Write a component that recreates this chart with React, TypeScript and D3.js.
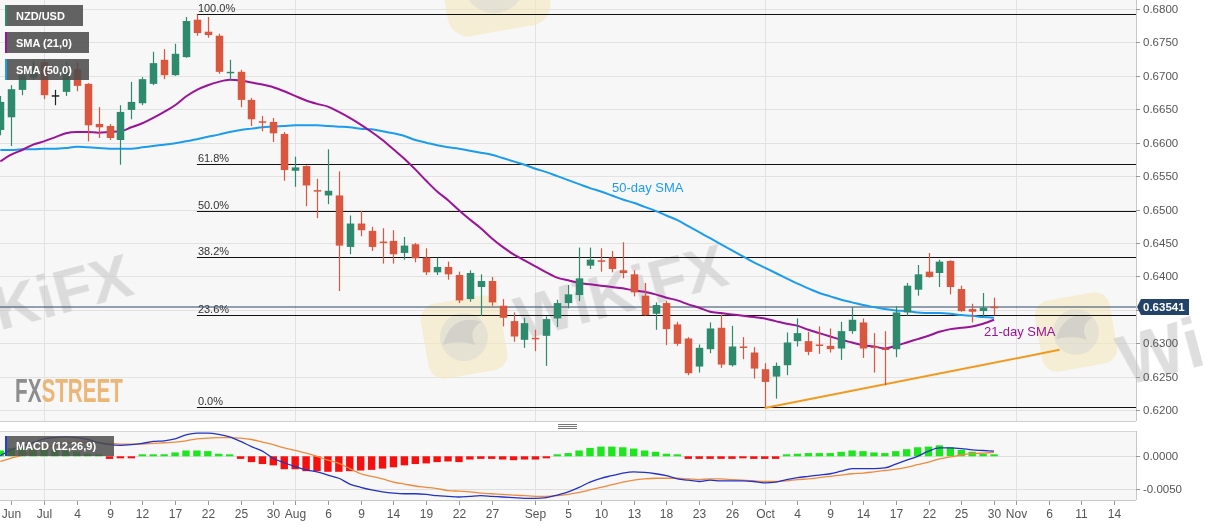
import React from "react";
import * as d3 from "d3";

// ---------- DATA ----------
const dates = [
  "2019-06-25","2019-06-26","2019-06-27","2019-06-28",
  "2019-07-01","2019-07-02","2019-07-03","2019-07-04","2019-07-05",
  "2019-07-08","2019-07-09","2019-07-10","2019-07-11","2019-07-12",
  "2019-07-15","2019-07-16","2019-07-17","2019-07-18","2019-07-19",
  "2019-07-22","2019-07-23","2019-07-24","2019-07-25","2019-07-26",
  "2019-07-29","2019-07-30","2019-07-31","2019-08-01","2019-08-02",
  "2019-08-05","2019-08-06","2019-08-07","2019-08-08","2019-08-09",
  "2019-08-12","2019-08-13","2019-08-14","2019-08-15","2019-08-16",
  "2019-08-19","2019-08-20","2019-08-21","2019-08-22","2019-08-23",
  "2019-08-26","2019-08-27","2019-08-28","2019-08-29","2019-08-30",
  "2019-09-02","2019-09-03","2019-09-04","2019-09-05","2019-09-06",
  "2019-09-09","2019-09-10","2019-09-11","2019-09-12","2019-09-13",
  "2019-09-16","2019-09-17","2019-09-18","2019-09-19","2019-09-20",
  "2019-09-23","2019-09-24","2019-09-25","2019-09-26","2019-09-27",
  "2019-09-30","2019-10-01","2019-10-02","2019-10-03","2019-10-04",
  "2019-10-07","2019-10-08","2019-10-09","2019-10-10","2019-10-11",
  "2019-10-14","2019-10-15","2019-10-16","2019-10-17","2019-10-18",
  "2019-10-21","2019-10-22","2019-10-23","2019-10-24","2019-10-25",
  "2019-10-28","2019-10-29","2019-10-30",
];

const opens = [
  0.6619,0.6638,0.6679,0.6697,0.6721,0.6671,0.6676,0.6710,0.6688,0.6628,
  0.6625,0.6604,0.6649,0.6659,0.6688,0.6724,0.6701,0.6728,0.6784,0.6766,
  0.6760,0.6705,0.6706,0.6664,0.6632,0.6631,0.6613,0.6558,0.6565,0.6529,
  0.6521,0.6521,0.6444,0.6479,0.6468,0.6452,0.6453,0.6435,0.6448,0.6428,
  0.6406,0.6414,0.6402,0.6366,0.6384,0.6393,0.6356,0.6333,0.6305,0.6308,
  0.6311,0.6337,0.6360,0.6372,0.6416,0.6424,0.6428,0.6409,0.6403,0.6371,
  0.6344,0.6360,0.6328,0.6307,0.6265,0.6291,0.6323,0.6267,0.6295,0.6286,
  0.6261,0.6250,0.6267,0.6303,0.6303,0.6298,0.6296,0.6292,0.6318,0.6331,
  0.6295,0.6292,0.6291,0.6346,0.6380,0.6407,0.6405,0.6423,0.6381,0.6351,
  0.6348,0.63545,
];
const highs = [
  0.6670,0.6686,0.6706,0.6721,0.6724,0.6679,0.6721,0.6721,0.6689,0.6653,
  0.6628,0.6656,0.6691,0.6698,0.6736,0.6740,0.6748,0.6788,0.6792,0.6788,
  0.6763,0.6724,0.6709,0.6667,0.6640,0.6637,0.6616,0.6579,0.6566,0.6546,
  0.6590,0.6557,0.6491,0.6498,0.6474,0.6472,0.6469,0.6459,0.6450,0.6442,
  0.6428,0.6422,0.6407,0.6409,0.6403,0.6399,0.6366,0.6346,0.6338,0.6320,
  0.6340,0.6365,0.6387,0.6443,0.6443,0.6442,0.6438,0.6451,0.6409,0.6390,
  0.6361,0.6363,0.6332,0.6309,0.6298,0.6331,0.6343,0.6326,0.6309,0.6294,
  0.6270,0.6271,0.6316,0.6337,0.6317,0.6325,0.6322,0.6332,0.6354,0.6337,
  0.6315,0.6318,0.6355,0.6390,0.6417,0.6435,0.6425,0.6424,0.6386,0.6359,
  0.6375,0.6368,
];
const lows = [
  0.6611,0.6595,0.6671,0.6694,0.6665,0.6656,0.6670,0.6677,0.6602,0.6607,
  0.6604,0.6567,0.6635,0.6656,0.6686,0.6695,0.6700,0.6727,0.6760,0.6757,
  0.6703,0.6694,0.6653,0.6625,0.6617,0.6601,0.6543,0.6534,0.6505,0.6487,
  0.6508,0.6378,0.6433,0.6460,0.6438,0.6419,0.6419,0.6425,0.6421,0.6402,
  0.6402,0.6395,0.6360,0.6362,0.6341,0.6356,0.6325,0.6302,0.6293,0.6288,
  0.6266,0.6324,0.6352,0.6363,0.6411,0.6407,0.6406,0.6397,0.6370,0.6341,
  0.6320,0.6297,0.6296,0.6252,0.6256,0.6285,0.6263,0.6265,0.6276,0.6247,
  0.6204,0.6217,0.6252,0.6295,0.6282,0.6284,0.6286,0.6275,0.6314,0.6278,
  0.6256,0.6237,0.6279,0.6341,0.6371,0.6398,0.6384,0.6373,0.6347,0.6331,
  0.6339,0.6342,
];
const closes = [
  0.6661,0.6680,0.6701,0.6712,0.6671,0.6671,0.6706,0.6685,0.6626,0.6623,
  0.6607,0.6646,0.6661,0.6695,0.6719,0.6701,0.6733,0.6782,0.6764,0.6761,
  0.6706,0.6706,0.6664,0.6635,0.6631,0.6614,0.6559,0.6563,0.6536,0.6527,
  0.6528,0.6446,0.6479,0.6469,0.6444,0.6451,0.6433,0.6446,0.6427,0.6406,
  0.6414,0.6403,0.6364,0.6405,0.6393,0.6361,0.6338,0.6310,0.6330,0.6307,
  0.6336,0.6360,0.6373,0.6397,0.6425,0.6423,0.6411,0.6405,0.6376,0.6342,
  0.6357,0.6321,0.6299,0.6255,0.6293,0.6322,0.6268,0.6295,0.6294,0.6262,
  0.6242,0.6266,0.6301,0.6315,0.6287,0.6297,0.6291,0.6318,0.6335,0.6292,
  0.6294,0.6290,0.6346,0.6386,0.6403,0.6399,0.6422,0.6384,0.6348,0.6347,
  0.6353,0.63541,
];

const sma21 = [
  0.6572,0.6582,0.6589,0.6597,0.6602,0.6608,0.6614,0.6616,0.6616,0.6615,
  0.6616,0.6617,0.6623,0.6629,0.6637,0.6646,0.6656,0.6669,0.6679,0.6686,
  0.6691,0.6694,0.6693,0.6690,0.6687,0.6683,0.6677,0.6670,0.6663,0.6658,
  0.6654,0.6646,0.6637,0.6627,0.6616,0.6604,0.6590,0.6576,0.6560,0.6543,
  0.6527,0.6514,0.6499,0.6485,0.6472,0.6457,0.6444,0.6433,0.6424,0.6415,
  0.6406,0.6398,0.6394,0.6390,0.6388,0.6386,0.6384,0.6382,0.6379,0.6377,
  0.6373,0.6368,0.6364,0.6358,0.6353,0.6347,0.6345,0.6343,0.6341,0.6339,
  0.6337,0.6333,0.6329,0.6326,0.6320,0.6315,0.6310,0.6305,0.6301,0.6297,
  0.6295,0.6292,0.6296,0.6301,0.6306,0.6311,0.6317,0.6321,0.6323,0.6325,
  0.6329,0.6335,
];
const sma50 = [
  0.6589,0.6589,0.6590,0.6590,0.6591,0.6591,0.6592,0.6594,0.6593,0.6592,
  0.6591,0.6591,0.6591,0.6593,0.6595,0.6597,0.6599,0.6602,0.6605,0.6609,
  0.6612,0.6616,0.6619,0.6621,0.6623,0.6624,0.6625,0.6626,0.6626,0.6626,
  0.6625,0.6624,0.6623,0.6621,0.6620,0.6617,0.6614,0.6610,0.6604,0.6600,
  0.6596,0.6593,0.6591,0.6588,0.6585,0.6582,0.6577,0.6572,0.6567,0.6561,
  0.6556,0.6550,0.6544,0.6538,0.6532,0.6527,0.6521,0.6515,0.6510,0.6504,
  0.6498,0.6491,0.6484,0.6475,0.6466,0.6457,0.6448,0.6439,0.6430,0.6421,
  0.6413,0.6405,0.6397,0.6389,0.6382,0.6375,0.6370,0.6365,0.6361,0.6357,
  0.6354,0.6351,0.6349,0.6348,0.6346,0.6345,0.6345,0.6344,0.6342,0.6341,
  0.6339,0.6338,
];

const macdLine = [
  0.0001,0.0010,0.0016,0.0021,0.0027,0.0029,0.0030,0.0029,0.0026,0.0021,
  0.0018,0.0017,0.0018,0.0020,0.0023,0.0024,0.0027,0.0033,0.0036,0.0036,
  0.0034,0.0030,0.0023,0.0015,0.0008,-0.0003,-0.0010,-0.0016,-0.0021,-0.0024,
  -0.0029,-0.0034,-0.0043,-0.0048,-0.0052,-0.0055,-0.0057,-0.0058,-0.0058,-0.0059,
  -0.0061,-0.0062,-0.0063,-0.0062,-0.0061,-0.0062,-0.0063,-0.0064,-0.0065,-0.0065,
  -0.0064,-0.0060,-0.0055,-0.0048,-0.0040,-0.0034,-0.0030,-0.0026,-0.0024,-0.0025,
  -0.0027,-0.0030,-0.0035,-0.0037,-0.0039,-0.0037,-0.0038,-0.0038,-0.0038,-0.0039,
  -0.0041,-0.0040,-0.0036,-0.0033,-0.0031,-0.0029,-0.0027,-0.0023,-0.0019,-0.0019,
  -0.0019,-0.0018,-0.0012,-0.0006,0.0000,0.0008,0.0013,0.0013,0.0012,0.0010,
  0.0009,0.0008,
];
const signalLine = [
  -0.0008,-0.0003,0.0002,0.0008,0.0013,0.0017,0.0020,0.0022,0.0022,0.0021,
  0.0020,0.0019,0.0019,0.0019,0.0020,0.0021,0.0022,0.0024,0.0027,0.0028,
  0.0029,0.0029,0.0028,0.0026,0.0022,0.0018,0.0013,0.0009,0.0005,0.0000,
  -0.0006,-0.0011,-0.0019,-0.0027,-0.0031,-0.0035,-0.0040,-0.0043,-0.0046,-0.0048,
  -0.0050,-0.0053,-0.0054,-0.0055,-0.0057,-0.0058,-0.0059,-0.0060,-0.0061,-0.0062,
  -0.0062,-0.0061,-0.0059,-0.0056,-0.0052,-0.0048,-0.0044,-0.0040,-0.0037,-0.0035,
  -0.0034,-0.0034,-0.0034,-0.0035,-0.0036,-0.0035,-0.0035,-0.0036,-0.0037,-0.0038,
  -0.0039,-0.0039,-0.0038,-0.0036,-0.0035,-0.0033,-0.0031,-0.0029,-0.0027,-0.0026,
  -0.0024,-0.0022,-0.0020,-0.0017,-0.0013,-0.0009,-0.0004,-0.0001,0.0002,0.0004,
  0.0005,0.0006,
];
const histogram = [
  0.0009,0.0013,0.0013,0.0012,0.0012,0.0010,0.0009,0.0007,0.0004,0.0001,
  -0.0004,-0.0003,-0.0002,0.00005,0.0003,0.0003,0.0006,0.0009,0.0009,0.0008,
  0.0004,0.0001,-0.0004,-0.0009,-0.0012,-0.0014,-0.0020,-0.0020,-0.0023,-0.0023,
  -0.0024,-0.0024,-0.0023,-0.0022,-0.0021,-0.0019,-0.0017,-0.0014,-0.0012,-0.0011,
  -0.0009,-0.0008,-0.0009,-0.0005,-0.0004,-0.0004,-0.0005,-0.0006,-0.0005,-0.0005,
  -0.0003,0.00015,0.0005,0.0009,0.0013,0.0015,0.0015,0.0014,0.0012,0.0009,
  0.0007,0.0004,0.0001,-0.0004,-0.0004,-0.0004,-0.0004,-0.0004,-0.0002,-0.0004,
  -0.0004,-0.0004,0.00005,0.0004,0.0005,0.0005,0.0005,0.0007,0.0009,0.0008,
  0.0006,0.0005,0.0008,0.0011,0.0014,0.0015,0.0017,0.0014,0.0010,0.0007,
  0.0004,0.00015,
];

const priceTicks = [0.62, 0.625, 0.63, 0.635, 0.64, 0.645, 0.65, 0.655, 0.66, 0.665, 0.67, 0.675, 0.68];
const macdTicks = [0, -0.005];
const tickDates = [
  "2019-06-26","2019-07-01","2019-07-04","2019-07-09","2019-07-12","2019-07-17","2019-07-22",
  "2019-07-25","2019-07-30","2019-08-01","2019-08-06","2019-08-09","2019-08-14","2019-08-19",
  "2019-08-22","2019-08-27","2019-09-02","2019-09-05","2019-09-10","2019-09-13","2019-09-18",
  "2019-09-23","2019-09-26","2019-10-01","2019-10-04","2019-10-09","2019-10-14","2019-10-17",
  "2019-10-22","2019-10-25","2019-10-30","2019-11-01","2019-11-06","2019-11-11","2019-11-14",
];
const tickLabels = [
  "Jun","Jul","4","9","12","17","22","25","30","Aug","6","9","14","19","22","27",
  "Sep","5","10","13","18","23","26","Oct","4","9","14","17","22","25","30","Nov","6","11","14",
];
const monthStarts = ["2019-07-01", "2019-08-01", "2019-09-02", "2019-10-01", "2019-11-01"];
const fibRatios = [1, 0.618, 0.5, 0.382, 0.236, 0];
const fibLabels = ["100.0%", "61.8%", "50.0%", "38.2%", "23.6%", "0.0%"];
const fibHigh = 0.6792;
const fibLow = 0.6204;
const fibStart = "2019-07-19";
const trendDates = ["2019-10-01", "2019-11-07"];
const trendValues = [0.6203, 0.629];
const lastPrice = 0.63541;

// ---------- HELPERS ----------
const BASE = Date.UTC(2019, 6, 1);
function tradingIndex(s: string): number {
  const [yy, mm, dd] = s.split("-").map(Number);
  const t = Date.UTC(yy, mm - 1, dd);
  let n = 0;
  let cur = BASE;
  const step = t >= BASE ? 1 : -1;
  while (cur !== t) {
    cur += step * 86400000;
    const wd = new Date(cur).getUTCDay();
    if (wd !== 0 && wd !== 6) n += step;
  }
  return n;
}

const W = 1207;
const H = 526;
const PLOT_R = 1136;
const MAIN_BOTTOM = 421;
const MACD_TOP = 431;
const MACD_BOTTOM = 500;
const FONT = "'Liberation Sans', Arial, Helvetica, sans-serif";

const UP = "#2e8a6c";
const DOWN = "#d9573e";
const PURPLE = "#9a1497";
const BLUE = "#1c9cef";

function Logo({ cx, cy, s }: { cx: number; cy: number; s: number }) {
  return (
    <g transform={`translate(${cx} ${cy}) rotate(-10) scale(${s})`}>
      <rect x={-40} y={-38} width={80} height={76} rx={16} fill="#f6e7b8" opacity={0.55} />
      <circle cx={0} cy={0} r={24} fill="#d2d2d2" opacity={0.45} />
      <path d="M-22,4 Q-8,-26 20,-12 Q4,-6 10,10 Q-4,2 -22,4 Z" fill="#bdbdbd" opacity={0.45} />
    </g>
  );
}

export default function App() {
  const x = d3.scaleLinear().domain([-4.03, 100]).range([0, PLOT_R]);
  const y = d3.scaleLinear().domain([0.62, 0.68]).range([410, 9]);
  const ym = d3.scaleLinear().domain([-0.005, 0]).range([488.6, 456.3]);

  const idx = dates.map(tradingIndex);

  const smaLine = (vals: number[]) =>
    d3
      .line<number>()
      .x((_, k) => x(idx[k]))
      .y((v) => y(v))
      .curve(d3.curveMonotoneX)(vals) || "";
  const macdPath = (vals: number[]) =>
    d3
      .line<number>()
      .x((_, k) => x(idx[k]))
      .y((v) => ym(v))
      .curve(d3.curveMonotoneX)(vals) || "";

  const fibX = x(tradingIndex(fibStart));
  const lastY = y(lastPrice);
  const bodyW = 7.5;

  return (
    <svg
      width={W}
      height={H}
      style={{ position: "absolute", left: 0, top: 0, background: "#ffffff" }}
      fontFamily={FONT}
    >
      {/* plot backgrounds */}
      <rect x={0} y={0} width={PLOT_R} height={MAIN_BOTTOM} fill="#f7f7f7" />
      <rect x={0} y={MACD_TOP} width={PLOT_R} height={MACD_BOTTOM - MACD_TOP} fill="#f7f7f7" />

      {/* horizontal grid */}
      {priceTicks.map((t) => (
        <line key={"g" + t} x1={0} x2={PLOT_R} y1={Math.round(y(t)) + 0.5} y2={Math.round(y(t)) + 0.5} stroke="#e2e2e2" />
      ))}
      {macdTicks.map((t) => (
        <line key={"gm" + t} x1={0} x2={PLOT_R} y1={Math.round(ym(t)) + 0.5} y2={Math.round(ym(t)) + 0.5} stroke="#dedede" />
      ))}
      {/* vertical month grid */}
      {monthStarts.map((d) => {
        const xx = Math.round(x(tradingIndex(d))) + 0.5;
        return (
          <g key={"v" + d}>
            <line x1={xx} x2={xx} y1={0} y2={MAIN_BOTTOM} stroke="#e2e2e2" />
            <line x1={xx} x2={xx} y1={MACD_TOP} y2={MACD_BOTTOM} stroke="#e2e2e2" />
          </g>
        );
      })}

      {/* watermarks (behind the series) */}
      <Logo cx={464} cy={337} s={1} />
      <Logo cx={494} cy={-18} s={1.3} />
      <Logo cx={1076} cy={332} s={0.95} />
      <g fill="#c9c9c9" opacity={0.6} fontWeight="bold" fontSize={62}>
        <text x={522} y={340} transform="rotate(-15 522 340)">WiKiFX</text>
        <text x={-73} y={350} transform="rotate(-15 -73 350)">WiKiFX</text>
        <text x={1126} y={386} fontSize={70} transform="rotate(-15 1126 386)">Wi</text>
      </g>

      {/* fibonacci levels */}
      {fibRatios.map((r, k) => {
        const v = fibLow + r * (fibHigh - fibLow);
        const yy = Math.round(y(v)) + 0.5;
        return (
          <g key={"f" + r}>
            <line x1={fibX} x2={PLOT_R} y1={yy} y2={yy} stroke="#111" strokeWidth={1} />
            <text x={fibX + 1} y={yy - 3} fontSize={11} fill="#333">
              {fibLabels[k]}
            </text>
          </g>
        );
      })}

      {/* last price line */}
      <line x1={0} x2={PLOT_R} y1={lastY} y2={lastY} stroke="#2c4664" strokeWidth={1} />

      {/* trend line */}
      <line
        x1={x(tradingIndex(trendDates[0]))}
        y1={y(trendValues[0])}
        x2={x(tradingIndex(trendDates[1]))}
        y2={y(trendValues[1])}
        stroke="#f39a1e"
        strokeWidth={2}
      />

      {/* SMA lines */}
      <path d={smaLine(sma50)} fill="none" stroke={BLUE} strokeWidth={2} />
      <path d={smaLine(sma21)} fill="none" stroke={PURPLE} strokeWidth={2} />

      {/* candles */}
      {dates.map((d, k) => {
        const cx = Math.round(x(idx[k])) + 0.5;
        const o = opens[k];
        const c = closes[k];
        const col = o === c ? "#222" : c > o ? UP : DOWN;
        const yTop = y(Math.max(o, c));
        const yBot = y(Math.min(o, c));
        return (
          <g key={d}>
            <line x1={cx} x2={cx} y1={y(highs[k])} y2={y(lows[k])} stroke={col} strokeWidth={1.2} />
            <rect x={cx - bodyW / 2} y={yTop} width={bodyW} height={Math.max(1.5, yBot - yTop)} fill={col} />
          </g>
        );
      })}

      {/* SMA annotations */}
      <text x={612} y={192} fontSize={13} fill={BLUE}>50-day SMA</text>
      <text x={984} y={336} fontSize={13} fill={PURPLE}>21-day SMA</text>

      {/* FXSTREET logo */}
      <text x={15} y={402} fontWeight="bold" fontSize={33} textLength={108} lengthAdjust="spacingAndGlyphs">
        <tspan fill="#8d8d8d">FX</tspan>
        <tspan fill="#ebb676">STREET</tspan>
      </text>

      {/* MACD histogram */}
      {histogram.map((v, k) => {
        const cx = x(idx[k]);
        const y0 = ym(0);
        const y1 = ym(v);
        const h = Math.max(2, Math.abs(y1 - y0));
        const top = v >= 0 ? y0 - h : y0;
        return (
          <rect key={"h" + k} x={cx - 3.7} y={top} width={7.4} height={h} fill={v >= 0 ? "#1ee61e" : "#f50f0f"} />
        );
      })}
      <path d={macdPath(signalLine)} fill="none" stroke="#f08a3c" strokeWidth={1.3} />
      <path d={macdPath(macdLine)} fill="none" stroke="#2231c8" strokeWidth={1.3} />

      {/* panel borders */}
      <line x1={0} x2={PLOT_R} y1={MAIN_BOTTOM + 0.5} y2={MAIN_BOTTOM + 0.5} stroke="#cfcfcf" />
      <line x1={0} x2={PLOT_R} y1={MACD_TOP + 0.5} y2={MACD_TOP + 0.5} stroke="#d6d6d6" />
      <line x1={0} x2={PLOT_R} y1={MACD_BOTTOM + 0.5} y2={MACD_BOTTOM + 0.5} stroke="#c8c8c8" />
      <line x1={PLOT_R + 0.5} x2={PLOT_R + 0.5} y1={0} y2={MAIN_BOTTOM} stroke="#c8c8c8" />
      <line x1={PLOT_R + 0.5} x2={PLOT_R + 0.5} y1={MACD_TOP} y2={MACD_BOTTOM} stroke="#c8c8c8" />
      {/* separator handle */}
      {[424.5, 426.5, 428.5].map((yy) => (
        <line key={"s" + yy} x1={558} x2={577} y1={yy} y2={yy} stroke="#777" />
      ))}

      {/* price axis */}
      {priceTicks.map((t) => (
        <g key={"t" + t}>
          <line x1={PLOT_R} x2={PLOT_R + 4} y1={Math.round(y(t)) + 0.5} y2={Math.round(y(t)) + 0.5} stroke="#999" />
          <text x={PLOT_R + 7} y={y(t)} dy="0.35em" fontSize={11.5} fill="#555">
            {t.toFixed(4)}
          </text>
        </g>
      ))}
      {macdTicks.map((t) => (
        <g key={"tm" + t}>
          <line x1={PLOT_R} x2={PLOT_R + 4} y1={Math.round(ym(t)) + 0.5} y2={Math.round(ym(t)) + 0.5} stroke="#999" />
          <text x={PLOT_R + 7} y={ym(t)} dy="0.35em" fontSize={11.5} fill="#555">
            {t === 0 ? "0.0000" : t.toFixed(4)}
          </text>
        </g>
      ))}

      {/* last price tag */}
      <path
        d={`M${PLOT_R + 1},${lastY} L${PLOT_R + 5},${lastY - 8} L${PLOT_R + 53},${lastY - 8} L${PLOT_R + 53},${lastY + 8} L${PLOT_R + 5},${lastY + 8} Z`}
        fill="#24436b"
      />
      <text x={PLOT_R + 7} y={lastY} dy="0.36em" fontSize={11.5} fontWeight="bold" fill="#fff">
        {lastPrice.toFixed(5)}
      </text>

      {/* x axis */}
      {tickDates.map((d, k) => {
        const xx = Math.round(x(tradingIndex(d))) + 0.5;
        return (
          <g key={"x" + d}>
            <line x1={xx} x2={xx} y1={MACD_BOTTOM + 1} y2={MACD_BOTTOM + 5} stroke="#999" />
            <text x={Math.max(xx, 10)} y={518} fontSize={12} fill="#555" textAnchor="middle">
              {tickLabels[k]}
            </text>
          </g>
        );
      })}

      {/* legends */}
      {[
        { label: "NZD/USD", color: UP, y: 5, w: 78 },
        { label: "SMA (21,0)", color: PURPLE, y: 32, w: 84 },
        { label: "SMA (50,0)", color: BLUE, y: 59, w: 84 },
      ].map((l) => (
        <g key={l.label}>
          <rect x={5} y={l.y} width={l.w} height={21} fill="#4d4d4d" opacity={0.88} />
          <rect x={5} y={l.y} width={2} height={21} fill={l.color} />
          <text x={16} y={l.y + 14.5} fontSize={11} fontWeight="bold" fill="#fff">
            {l.label}
          </text>
        </g>
      ))}
      <g>
        <rect x={5} y={436} width={109} height={20} fill="#4d4d4d" opacity={0.85} />
        <rect x={5} y={436} width={2} height={20} fill="#1f3fd6" />
        <text x={16} y={450} fontSize={11} fontWeight="bold" fill="#fff">MACD (12,26,9)</text>
      </g>
    </svg>
  );
}
